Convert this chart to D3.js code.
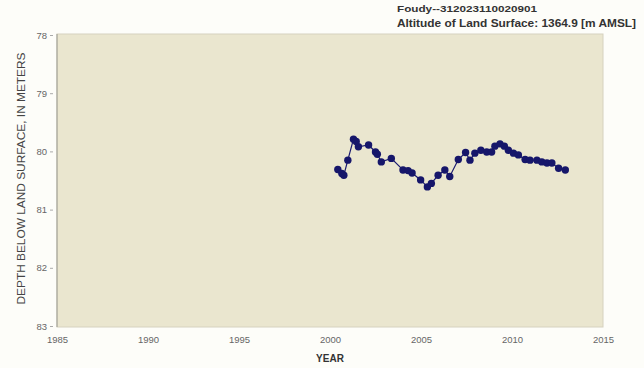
<!DOCTYPE html>
<html><head><meta charset="utf-8">
<script src="https://cdn.jsdelivr.net/npm/d3@7"></script>
<style>body{margin:0;background:#fdfdf9;} svg{display:block;}</style>
</head><body>
<script>
const years = [2000.43,2000.65,2000.76,2000.98,2001.29,2001.44,2001.56,2002.12,2002.50,2002.60,2002.82,2003.37,2004.01,2004.29,2004.51,2004.98,2005.35,2005.57,2005.94,2006.31,2006.58,2007.05,2007.45,2007.69,2007.96,2008.29,2008.61,2008.88,2009.06,2009.34,2009.58,2009.80,2010.08,2010.35,2010.72,2010.99,2011.37,2011.64,2011.92,2012.19,2012.56,2012.93];
const depths = [80.31,80.38,80.41,80.15,79.79,79.83,79.92,79.89,80.01,80.05,80.18,80.12,80.32,80.33,80.37,80.49,80.61,80.55,80.41,80.32,80.43,80.14,80.02,80.15,80.03,79.98,80.01,80.01,79.91,79.87,79.91,79.98,80.03,80.06,80.14,80.15,80.15,80.18,80.20,80.20,80.29,80.32];
const xTicks = [1985,1990,1995,2000,2005,2010,2015];
const yTicks = [78,79,80,81,82,83];
const titleLines = ["Foudy--312023110020901","Altitude of Land Surface: 1364.9 [m AMSL]"];
const xLabel = "YEAR";
const yLabel = "DEPTH BELOW LAND SURFACE, IN METERS";

const W=644,H=368;
const m={l:57,r:41,t:34,b:41};
const FONT="Arial, Liberation Sans, sans-serif";
const svg=d3.select("body").append("svg").attr("width",W).attr("height",H);
const x=d3.scaleLinear().domain([1985,2015]).range([m.l,W-m.r]);
const y=d3.scaleLinear().domain([78,83]).range([m.t+1,H-m.b-1]);

svg.append("rect").attr("x",m.l).attr("y",m.t).attr("width",W-m.r-m.l).attr("height",H-m.b-m.t)
  .attr("fill","#eae6cf").attr("stroke","#d6d2bf").attr("stroke-width",1);
svg.append("line").attr("x1",m.l).attr("x2",m.l).attr("y1",m.t).attr("y2",H-m.b).attr("stroke","#9a9a92").attr("stroke-width",1);

const ya=svg.append("g").attr("transform",`translate(${m.l-4},0)`)
  .call(d3.axisLeft(y).tickValues(yTicks).tickSize(3).tickFormat(d3.format("d")));
ya.select(".domain").remove();
ya.selectAll("line").attr("stroke","#aaa");
ya.selectAll("text").attr("fill","#666").attr("font-family",FONT).attr("font-size",9.5);

const xa=svg.append("g").attr("transform",`translate(0,${H-m.b+4})`)
  .call(d3.axisBottom(x).tickValues(xTicks).tickSize(0).tickFormat(d3.format("d")));
xa.select(".domain").remove();
xa.selectAll("text").attr("fill","#666").attr("font-family",FONT).attr("font-size",9.5).attr("dy","0.9em");

svg.append("text").attr("x",x(2000)).attr("y",362).attr("text-anchor","middle")
  .attr("font-family",FONT).attr("font-size",10).attr("font-weight","bold").attr("fill","#333").text(xLabel);
svg.append("text").attr("transform",`translate(25,${(m.t+H-m.b)/2-2}) rotate(-90)`).attr("text-anchor","middle")
  .attr("font-family",FONT).attr("font-size",10).attr("fill","#444")
  .attr("textLength",252).attr("lengthAdjust","spacingAndGlyphs").text(yLabel);

const tl=[140,239];
titleLines.forEach((t,i)=>{
  svg.append("text").attr("x",397).attr("y",12+i*15)
    .attr("font-family",FONT).attr("font-size",i?10.5:8.5).attr("font-weight","bold").attr("fill","#333")
    .attr("textLength",tl[i]).attr("lengthAdjust","spacingAndGlyphs").text(t);
});

const pts=years.map((d,i)=>[d,depths[i]]);
svg.append("path").datum(pts).attr("fill","none").attr("stroke","#1b1b70").attr("stroke-width",1.2)
  .attr("d",d3.line().x(d=>x(d[0])).y(d=>y(d[1])));
svg.selectAll("circle.pt").data(pts).enter().append("circle").attr("class","pt")
  .attr("cx",d=>x(d[0])).attr("cy",d=>y(d[1])).attr("r",3.7).attr("fill","#16166a");
</script>
</body></html>
